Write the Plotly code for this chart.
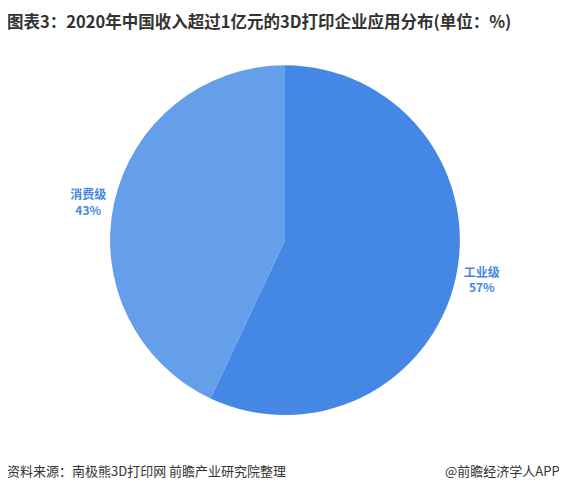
import plotly.graph_objects as go

labels = ['工业级', '消费级']
values = [57, 43]
colors = ['#4487E4', '#659FEA']

fig = go.Figure()
fig.add_trace(go.Pie(
    labels=labels, values=values, sort=False, direction='clockwise', rotation=0,
    marker=dict(colors=colors, line=dict(color='white', width=0)),
    texttemplate='<b>%{label}<br>%{value}%</b>', textposition='outside',
    textfont=dict(color='#4487E4', size=12, family='Noto Sans CJK SC'),
    outsidetextfont=dict(color='#4487E4'),
    showlegend=False, hoverinfo='skip', automargin=False,
    domain=dict(x=[0.086, 0.891], y=[0.176, 0.884]),
))

fig.update_layout(
    width=567, height=494, paper_bgcolor='white', plot_bgcolor='white',
    margin=dict(l=0, r=0, t=0, b=0),
    font=dict(family='Noto Sans CJK SC'),
    annotations=[
        dict(text='<b>图表3：2020年中国收入超过1亿元的3D打印企业应用分布(单位：%)</b>',
             x=-0.006, y=1.003, xref='paper', yref='paper', xanchor='left', yanchor='top',
             showarrow=False, font=dict(size=16.5, color='#333333')),
        dict(text='资料来源：南极熊3D打印网 前瞻产业研究院整理',
             x=-0.006, y=0.04, xref='paper', yref='paper', xanchor='left', yanchor='bottom',
             showarrow=False, font=dict(size=13, color='#333333')),
        dict(text='@前瞻经济学人APP',
             x=0.977, y=0.04, xref='paper', yref='paper', xanchor='right', yanchor='bottom',
             showarrow=False, font=dict(size=13, color='#333333')),
    ],
)

fig.write_html("out.html")
